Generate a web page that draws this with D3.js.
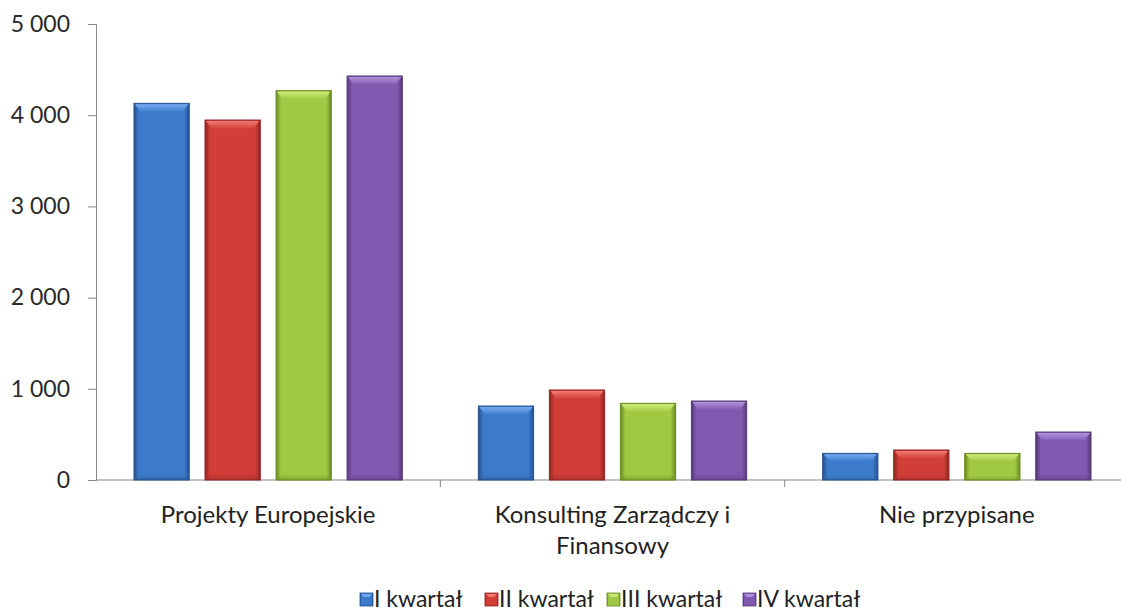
<!DOCTYPE html>
<html><head><meta charset="utf-8">
<script src="https://cdn.jsdelivr.net/npm/d3@7/dist/d3.min.js"></script>
<style>
html,body{margin:0;padding:0;background:#fff;}
svg{display:block;font-family:Lato,"Open Sans",sans-serif;}
</style></head>
<body>
<svg id="chart" width="1121" height="613"></svg>
<script>
const categories = ["Projekty Europejskie", "Konsulting Zarządczy i Finansowy", "Nie przypisane"];
const categoryLines = [["Projekty Europejskie"], ["Konsulting Zarządczy i", "Finansowy"], ["Nie przypisane"]];
const seriesNames = ["I kwartał", "II kwartał", "III kwartał", "IV kwartał"];
const q1 = [4130, 811, 292];
const q2 = [3947, 987, 329];
const q3 = [4269, 841, 292];
const q4 = [4430, 866, 526];
const yTicks = [0, 1000, 2000, 3000, 4000, 5000];
const colors = [
  {base:"#3b7bca", light:"#74aaf0", dark:"#24508e"},
  {base:"#d13d37", light:"#f07a70", dark:"#8e2421"},
  {base:"#a0c842", light:"#cdeb78", dark:"#6a8a24"},
  {base:"#8159b0", light:"#b092dc", dark:"#553878"}
];
const seriesValues = [q1, q2, q3, q4];

const svg = d3.select("#chart");
const defs = svg.append("defs");
colors.forEach((c, i) => {
  const g = defs.append("linearGradient").attr("id", "gh" + i).attr("x1", 0).attr("x2", 1).attr("y1", 0).attr("y2", 0);
  g.append("stop").attr("offset", "0%").attr("stop-color", c.dark);
  g.append("stop").attr("offset", "9%").attr("stop-color", c.base);
  g.append("stop").attr("offset", "91%").attr("stop-color", c.base);
  g.append("stop").attr("offset", "100%").attr("stop-color", c.dark);
  const v = defs.append("linearGradient").attr("id", "gv" + i).attr("x1", 0).attr("x2", 0).attr("y1", 0).attr("y2", 1);
  v.append("stop").attr("offset", "0%").attr("stop-color", c.light);
  v.append("stop").attr("offset", "100%").attr("stop-color", c.base);
  const b = defs.append("linearGradient").attr("id", "gb" + i).attr("x1", 0).attr("x2", 0).attr("y1", 0).attr("y2", 1);
  b.append("stop").attr("offset", "0%").attr("stop-color", c.base).attr("stop-opacity", 0);
  b.append("stop").attr("offset", "100%").attr("stop-color", c.dark).attr("stop-opacity", 0.6);
});

const x0 = d3.scaleBand().domain(categories).range([96, 1129]).paddingInner(0).paddingOuter(0);
const x1 = d3.scaleBand().domain(seriesNames).range([38, x0.bandwidth() - 38]).paddingInner(0.222).paddingOuter(0);
const y = d3.scaleLinear().domain([0, 5000]).range([480, 24]);

const loc = d3.formatLocale({decimal: ",", thousands: "\u00a0", grouping: [3], currency: ["", " zł"]});
const fmt = loc.format(",d");

// Y axis
const yAxis = svg.append("g").attr("transform", "translate(96,0)")
  .call(d3.axisLeft(y).tickValues(yTicks).tickFormat(fmt).tickSize(8).tickPadding(18));
yAxis.select(".domain").attr("stroke", "#878787");
yAxis.selectAll(".tick line").attr("stroke", "#878787");
yAxis.selectAll(".tick text").attr("fill", "#2a2a2a").style("font-size", "23px").style("font-family", "Lato, sans-serif");

// X axis
const xAxisG = svg.append("g").attr("transform", "translate(0,480)");
xAxisG.append("line").attr("x1", 96).attr("x2", 1129).attr("y1", 0).attr("y2", 0).attr("stroke", "#878787");
const boundaries = categories.map(c => x0(c)).concat([x0(categories[2]) + x0.bandwidth()]);
xAxisG.selectAll("line.tk").data(boundaries.slice(1)).enter().append("line").attr("class", "tk")
  .attr("x1", d => d).attr("x2", d => d).attr("y1", 0).attr("y2", 7).attr("stroke", "#878787");

// Bars
const groups = svg.append("g").selectAll("g").data(categories).enter().append("g")
  .attr("transform", d => `translate(${x0(d)},0)`);
seriesNames.forEach((s, si) => {
  groups.each(function(cat, ci) {
    const v = seriesValues[si][ci];
    const g = d3.select(this);
    const bx = x1(s), bw = x1.bandwidth(), by = y(v), bh = y(0) - y(v);
    const c = colors[si];
    g.append("rect").attr("x", bx).attr("y", by).attr("width", bw).attr("height", bh)
      .attr("fill", `url(#gh${si})`).attr("stroke", c.dark).attr("stroke-width", 1);
    g.append("rect").attr("x", bx + 1).attr("y", by + bh - Math.min(8, bh * 0.2)).attr("width", bw - 2).attr("height", Math.min(8, bh * 0.2))
      .attr("fill", `url(#gb${si})`);
    const cap = Math.min(9, bh * 0.3);
    g.append("path")
      .attr("d", `M${bx + 1},${by + 1} L${bx + bw - 1},${by + 1} L${bx + bw - 7},${by + cap} L${bx + 7},${by + cap} Z`)
      .attr("fill", `url(#gv${si})`);
  });
});

// Category labels
const labels = svg.append("g");
categories.forEach((c, i) => {
  const t = labels.append("text").attr("x", x0(c) + x0.bandwidth() / 2).attr("y", 523)
    .attr("text-anchor", "middle").attr("fill", "#222").style("font-size", "24px");
  categoryLines[i].forEach((ln, li) => {
    t.append("tspan").attr("x", x0(c) + x0.bandwidth() / 2).attr("dy", li === 0 ? 0 : 31).text(ln);
  });
});

// Legend
const legendX = [360, 485, 607, 743];
const leg = svg.append("g");
seriesNames.forEach((s, i) => {
  const g = leg.append("g").attr("transform", `translate(${legendX[i]},593)`);
  g.append("rect").attr("x", 0).attr("y", 0).attr("width", 13).attr("height", 13).attr("fill", `url(#gh${i})`).attr("stroke", colors[i].dark).attr("stroke-width", 0.8);
  g.append("path").attr("d", "M1,1 L12,1 L9,4 L4,4 Z").attr("fill", colors[i].light);
  g.append("text").attr("x", 14).attr("y", 13.5).attr("fill", "#222").style("font-size", "23px").text(s);
});
</script>
</body></html>
